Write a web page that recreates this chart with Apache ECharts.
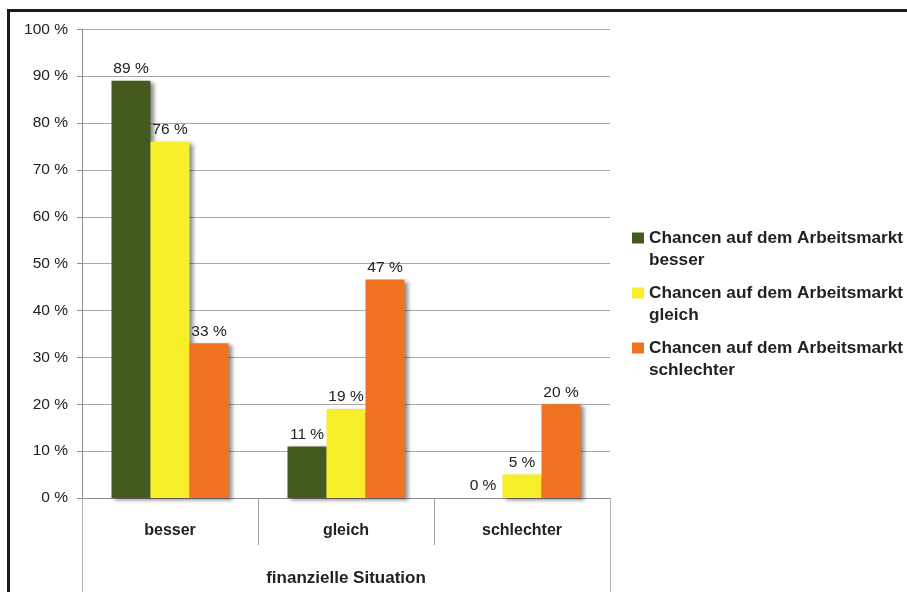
<!DOCTYPE html>
<html>
<head>
<meta charset="utf-8">
<title>Chancen auf dem Arbeitsmarkt</title>
<script src="https://cdn.jsdelivr.net/npm/echarts@6/dist/echarts.min.js"></script>
<style>
  html, body { margin: 0; padding: 0; background: #fff; }
  #chart { width: 907px; height: 592px; }
</style>
</head>
<body>
<div id="chart"></div>
<script>
  // Daten
  var categories = ['besser', 'gleich', 'schlechter'];
  var groupLabel = ['finanzielle Situation'];
  var seriesNames = [
    'Chancen auf dem Arbeitsmarkt\nbesser',
    'Chancen auf dem Arbeitsmarkt\ngleich',
    'Chancen auf dem Arbeitsmarkt\nschlechter'
  ];
  var besserValues = [89, 11, 0];
  var gleichValues = [76, 19, 5];
  var schlechterValues = [33, 46.6, 20];
  var yTicks = [0, 10, 20, 30, 40, 50, 60, 70, 80, 90, 100];

  var colors = ['#445a1f', '#f8ee2a', '#f27223'];
  var fontFamily = 'Liberation Sans';

  function makeSeries (name, data, color) {
    return {
      name: name,
      type: 'bar',
      xAxisIndex: 0,
      data: data,
      barWidth: 39,
      barGap: 0,
      itemStyle: {
        color: color,
        shadowColor: 'rgba(0,0,0,0.45)',
        shadowBlur: 4,
        shadowOffsetX: 3,
        shadowOffsetY: 2
      },
      label: {
        show: true,
        position: 'top',
        distance: 4,
        color: '#222',
        fontSize: 15.5,
        fontFamily: fontFamily,
        formatter: function (p) {
          return Math.round(p.value) + ' %';
        }
      }
    };
  }

  var chart = echarts.init(document.getElementById('chart'));
  chart.setOption({
    animation: false,
    textStyle: { fontFamily: fontFamily },
    grid: {
      left: 82,
      right: 297,
      top: 29.3,
      bottom: 94
    },
    legend: {
      orient: 'vertical',
      left: 627,
      top: 200,
      icon: 'rect',
      itemWidth: 12,
      itemHeight: 11,
      itemGap: -11,
      data: seriesNames,
      // leere erste Zeile, damit das Symbol neben der ersten Textzeile steht
      formatter: function (name) {
        return '\n' + name;
      },
      textStyle: {
        color: '#222',
        fontSize: 17.2,
        fontWeight: 'bold',
        lineHeight: 22
      }
    },
    xAxis: [{
      type: 'category',
      data: categories,
      position: 'bottom',
      axisLine: { show: true, lineStyle: { color: '#8c8c8c', width: 1 } },
      axisTick: { show: true, interval: 0, length: 47, lineStyle: { color: '#a0a0a0' } },
      axisLabel: {
        interval: 0,
        margin: 25,
        color: '#222',
        fontSize: 16,
        fontWeight: 'bold'
      },
      splitLine: { show: false }
    }, {
      type: 'category',
      data: groupLabel,
      position: 'bottom',
      offset: 0,
      axisLine: { show: false },
      axisTick: { show: true, interval: 0, length: 94, lineStyle: { color: '#b4b4b4' } },
      axisLabel: {
        interval: 0,
        margin: 72,
        color: '#222',
        fontSize: 17,
        fontWeight: 'bold'
      },
      splitLine: { show: false }
    }],
    yAxis: {
      type: 'value',
      min: yTicks[0],
      max: yTicks[yTicks.length - 1],
      interval: 10,
      axisLine: { show: true, lineStyle: { color: '#8c8c8c' } },
      axisTick: { show: true, length: 5, lineStyle: { color: '#8c8c8c' } },
      axisLabel: {
        margin: 14,
        color: '#222',
        fontSize: 15.5,
        formatter: '{value} %'
      },
      splitLine: { show: true, lineStyle: { color: '#a8a8a8', width: 1 } }
    },
    // schwarzer Rahmen oben und links
    graphic: [{
      type: 'rect',
      silent: true,
      shape: { x: 8.5, y: 10.5, width: 1000, height: 700 },
      style: { fill: 'none', stroke: '#1a1a1a', lineWidth: 3 }
    }],
    series: [
      makeSeries(seriesNames[0], besserValues, colors[0]),
      makeSeries(seriesNames[1], gleichValues, colors[1]),
      makeSeries(seriesNames[2], schlechterValues, colors[2])
    ]
  });
</script>
</body>
</html>
